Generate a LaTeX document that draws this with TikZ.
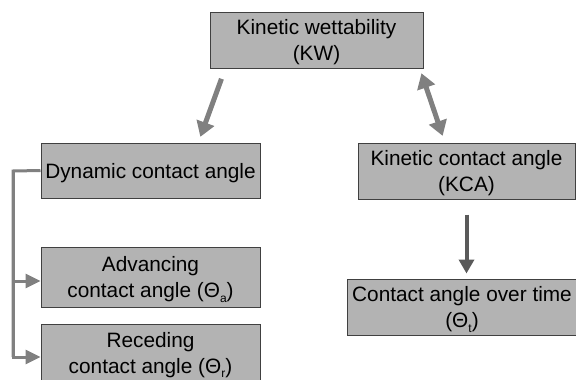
\documentclass[tikz,border=0pt]{standalone}
\usepackage{fontspec}
\setmainfont{Liberation Sans}
\usetikzlibrary{arrows.meta}
\definecolor{boxgray}{HTML}{B3B3B3}
\definecolor{edgegray}{HTML}{404040}
\definecolor{arrowgray}{HTML}{808080}
\definecolor{darkarrow}{HTML}{5A5A5A}
\newcommand{\lowidx}[1]{\raisebox{-0.45ex}{\fontsize{12}{12}\selectfont #1}}
\tikzset{
  box/.style={draw=edgegray, line width=1pt, fill=boxgray, inner sep=0pt, text depth=0pt,
    align=center, font=\fontsize{20.8}{26}\selectfont},
  bigarrow/.style={draw=arrowgray, line width=5pt, -{Triangle[width=18pt,length=15pt]}},
  twoway/.style={draw=arrowgray, line width=5pt, {Triangle[width=18pt,length=15pt]}-{Triangle[width=18pt,length=15pt]}},
  bracket/.style={draw=arrowgray, line width=3pt},
  downarrow/.style={draw=darkarrow, line width=4pt, -{Triangle[width=15pt,length=14pt]}}
}
\begin{document}
\begin{tikzpicture}[x=1pt,y=-1pt]
    \useasboundingbox (0,0) rectangle (576,380);
    \clip (0,0) rectangle (576,380);
    % boxes
    \node[box, minimum width=213pt, minimum height=56pt] (kw) at (316.5,40) {Kinetic wettability\\(KW)};
    \node[box, minimum width=219pt, minimum height=55pt] (dyn) at (150.5,170.5) {Dynamic contact angle};
    \node[box, minimum width=217pt, minimum height=56pt] (kca) at (466.5,171) {Kinetic contact angle\\(KCA)};
    \node[box, minimum width=219pt, minimum height=60pt] (adv) at (150.5,277) {Advancing\\contact angle (Θ\lowidx{a})};
    \node[box, minimum width=219pt, minimum height=57pt] (rec) at (150.5,352.5) {Receding\\contact angle (Θ\lowidx{r})};
    \node[box, minimum width=230pt, minimum height=56pt] (time) at (462,307) {Contact angle over time\\(Θ\lowidx{t})};
    % arrows
    \draw[bigarrow, shorten <=11pt, shorten >=6pt] ([xshift=15.7pt]kw.south west) -- ([xshift=-62.2pt]dyn.north east);
    \draw[twoway, shorten <=5pt, shorten >=7pt] ([xshift=-3.7pt]kw.south east) -- ([xshift=87.4pt]kca.north west);
    \draw[downarrow, shorten <=15pt, shorten >=5pt] (kca.south) -- (kca.south |- time.north);
    % bracket on the left
    \coordinate (spine) at (13,171);
    \draw[bracket, line join=miter] (dyn.west) -- (spine) -- (13,357);
    \draw[bracket, -{Triangle[width=14pt,length=15pt]}] (spine) |- ([yshift=-4pt]adv.west);
    \draw[bracket, -{Triangle[width=14pt,length=15pt]}] (spine) |- ([yshift=-4.5pt]rec.west);
\end{tikzpicture}
\end{document}
